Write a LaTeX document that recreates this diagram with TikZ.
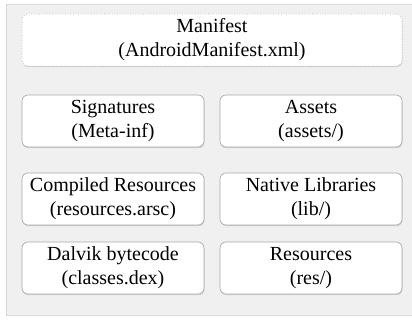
\documentclass[tikz,border=0pt]{standalone}
\usepackage{fontspec}
\setmainfont{Liberation Serif}
\usetikzlibrary{shadows}

\begin{document}
\begin{tikzpicture}[x=1pt, y=-1pt,
        part/.style={draw=gray!70, fill=white, rounded corners=6pt, line width=0.6pt,
            minimum width=182pt, minimum height=52pt, align=center, inner sep=0pt,
            font=\fontsize{20}{24}\selectfont,
            drop shadow={shadow xshift=0.6pt, shadow yshift=-1.2pt, opacity=0.25}},
        wide/.style={part, minimum width=380pt, draw=gray!60, dotted}]
        \useasboundingbox (0,0) rectangle (412,320);
        \fill [gray!12] (6,4) rectangle (412,315);
        \draw [gray!30] (412,4) -- (6,4) -- (6,315) -- (412,315);
        \node[wide] (manifest) at (212,40) {Manifest\\(AndroidManifest.xml)};
        \node[part] (signatures) at (113,121) {Signatures\\(Meta-inf)};
        \node[part] (assets) at (311,121) {Assets\\(assets/)};
        \node[part] (compiled) at (113,199) {Compiled Resources\\(resources.arsc)};
        \node[part] (native) at (311,199) {Native Libraries\\(lib/)};
        \node[part] (dalvik) at (113,268) {Dalvik bytecode\\(classes.dex)};
        \node[part] (res) at (311,268) {Resources\\(res/)};
    \end{tikzpicture}
\end{document}
